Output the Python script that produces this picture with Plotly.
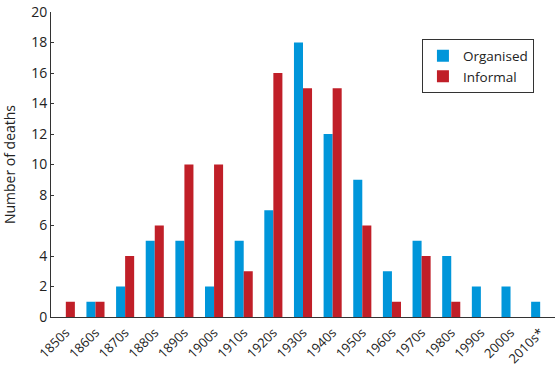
import plotly.graph_objects as go

decades = ["1850s", "1860s", "1870s", "1880s", "1890s", "1900s", "1910s", "1920s", "1930s",
           "1940s", "1950s", "1960s", "1970s", "1980s", "1990s", "2000s", "2010s*"]
organised = [0, 1, 2, 5, 5, 2, 5, 7, 18, 12, 9, 3, 5, 4, 2, 2, 1]
informal = [1, 1, 4, 6, 10, 10, 3, 16, 15, 15, 6, 1, 4, 1, 0, 0, 0]

font = "'Open Sans', sans-serif"

fig = go.Figure()
fig.add_trace(go.Bar(x=decades, y=organised, name="Organised", marker_color="#0096da",
                     marker_line_width=0))
fig.add_trace(go.Bar(x=decades, y=informal, name="Informal", marker_color="#c01f28",
                     marker_line_width=0))

fig.update_layout(
    width=555, height=366,
    margin=dict(l=51, r=0, t=12, b=49),
    barmode="group", bargap=0.39, bargroupgap=0,
    plot_bgcolor="white", paper_bgcolor="white",
    font=dict(family=font, size=14, color="#222"),
    legend=dict(x=0.736, y=0.91, xanchor="left", yanchor="top",
                bordercolor="#333", borderwidth=1, font=dict(size=13.5),
                itemwidth=30, tracegroupgap=0),
    xaxis=dict(showline=True, linecolor="#333", linewidth=1, tickangle=-45,
               ticks="", tickfont=dict(size=13), showgrid=False, automargin=False,
               ticklabelstandoff=2),
    yaxis=dict(range=[0, 20], dtick=2, showline=True, linecolor="#333", linewidth=1,
               ticks="inside", ticklen=3, tickcolor="#333", showgrid=False,
               zeroline=False, tickfont=dict(size=14), automargin=False,
               title=dict(text="Number of deaths", font=dict(size=14), standoff=14)),
)

fig.write_html("out.html", config={"displayModeBar": False},
               post_script="document.body.style.margin='0';")
